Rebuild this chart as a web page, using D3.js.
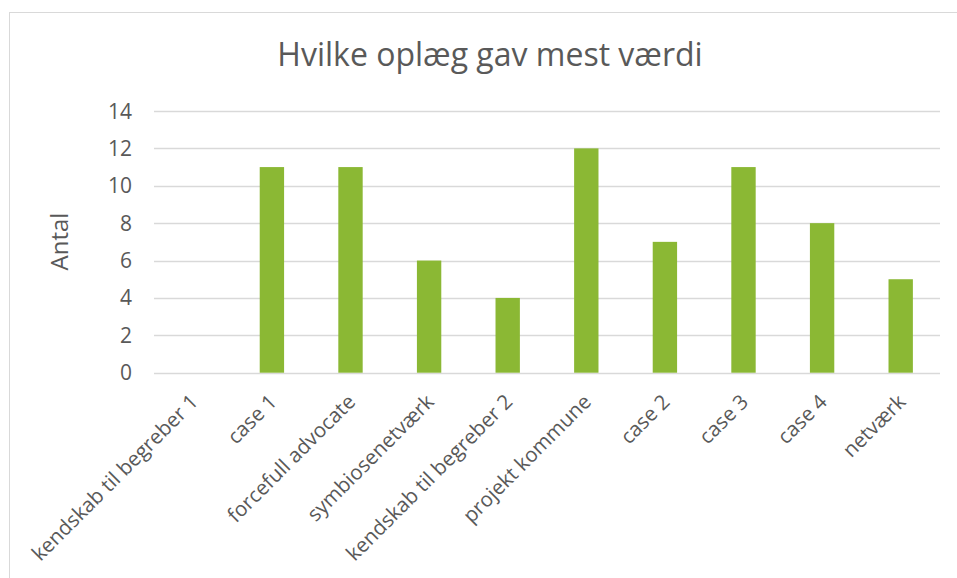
<!DOCTYPE html>
<meta charset="utf-8">
<style>
  body { margin: 0; background: #fff; }
  text { font-family: "Open Sans", sans-serif; fill: #595959; }
</style>
<svg width="957" height="578"></svg>
<script src="https://cdn.jsdelivr.net/npm/d3@7"></script>
<script>

var categories = ["kendskab til begreber 1", "case 1", "forcefull advocate", "symbiosenetværk",
  "kendskab til begreber 2", "projekt kommune", "case 2", "case 3", "case 4", "netværk"];
var values = [0, 11, 11, 6, 4, 12, 7, 11, 8, 5];
var yTicks = [0, 2, 4, 6, 8, 10, 12, 14];

var svg = d3.select("svg");

// outer frame, runs off right/bottom edge
svg.append("rect")
  .attr("x", 9.5).attr("y", 12.5)
  .attr("width", 1000).attr("height", 1000)
  .attr("fill", "none")
  .attr("stroke", "#d9d9d9");

var x = d3.scaleBand()
  .domain(categories)
  .range([154, 940])
  .paddingInner(0.69)
  .paddingOuter(0.345);

var y = d3.scaleLinear()
  .domain([0, 14])
  .range([372.7, 111]);

// gridlines
svg.append("g")
  .selectAll("line")
  .data(yTicks)
  .enter().append("line")
  .attr("x1", 154).attr("x2", 940)
  .attr("y1", function(d) { return Math.round(y(d)) + 0.5; })
  .attr("y2", function(d) { return Math.round(y(d)) + 0.5; })
  .attr("stroke", "#d9d9d9")
  .attr("stroke-width", 1.5);

// y tick labels
svg.append("g")
  .selectAll("text")
  .data(yTicks)
  .enter().append("text")
  .attr("x", 132)
  .attr("y", function(d) { return y(d); })
  .attr("dy", "0.36em")
  .attr("text-anchor", "end")
  .style("font-size", "21px")
  .text(function(d) { return d; });

// bars
svg.append("g")
  .selectAll("rect")
  .data(values)
  .enter().append("rect")
  .attr("x", function(d, i) { return x(categories[i]); })
  .attr("width", x.bandwidth())
  .attr("y", function(d) { return y(d); })
  .attr("height", function(d) { return y(0) - y(d); })
  .attr("fill", "#8bb834");

// category labels
svg.append("g")
  .selectAll("text")
  .data(categories)
  .enter().append("text")
  .attr("transform", function(d) {
    return "translate(" + (x(d) + x.bandwidth() / 2 + 1) + ",398) rotate(-45)";
  })
  .attr("text-anchor", "end")
  .attr("dy", "0.35em")
  .style("font-size", "20.5px")
  .text(function(d) { return d; });

// axis title
svg.append("text")
  .attr("transform", "translate(68,241.5) rotate(-90)")
  .attr("text-anchor", "middle")
  .style("font-size", "24px")
  .text("Antal");

// chart title
svg.append("text")
  .attr("x", 490)
  .attr("y", 66)
  .attr("text-anchor", "middle")
  .style("font-size", "32px")
  .text("Hvilke oplæg gav mest værdi");

</script>
